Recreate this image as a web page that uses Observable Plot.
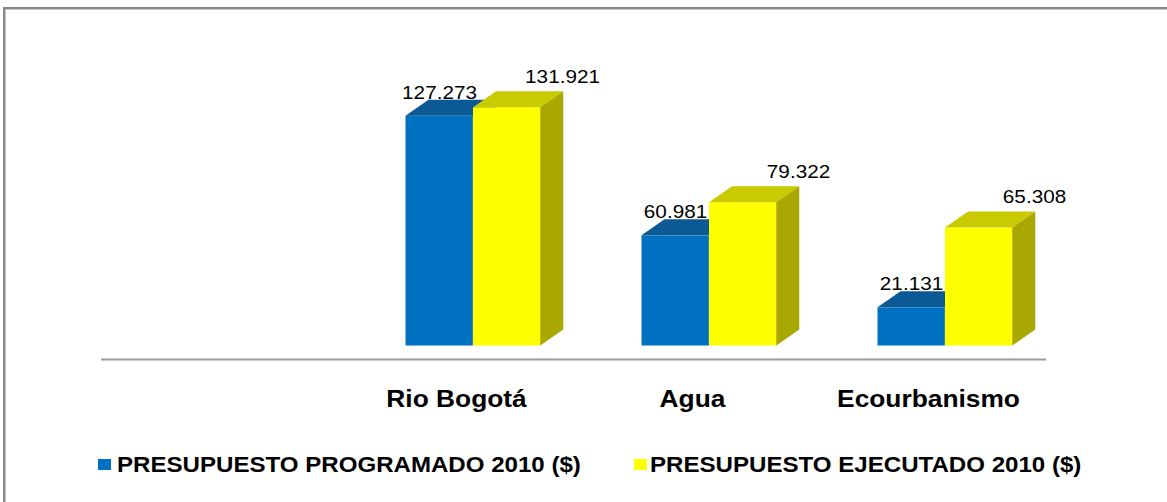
<!DOCTYPE html>
<html><head><meta charset="utf-8">
<script src="https://cdn.jsdelivr.net/npm/d3@7"></script>
<script src="https://cdn.jsdelivr.net/npm/@observablehq/plot@0.6"></script>
<style>
html,body{margin:0;padding:0;background:#fff;width:1167px;height:502px;overflow:hidden;font-family:"Liberation Sans",Arial,sans-serif}
#frame{position:absolute;left:3px;top:7px;width:1300px;height:600px;border-top:2px solid #878787;border-left:2px solid #878787;box-shadow:inset 1px 1px 0 #c4c4c4}
#chart{position:absolute;left:0;top:0}
.leg{position:absolute;top:454.8px;font-weight:bold;font-size:21.5px;line-height:21.5px;color:#000;white-space:nowrap;transform-origin:0 0;transform:scaleX(1.12)}
.sw{position:absolute;width:13px;height:11px}
</style></head><body>
<div id="frame"></div>
<div id="chart"></div>
<div id="legend"></div>
<script>
// ---- data ----
const categories = ["Rio Bogotá", "Agua", "Ecourbanismo"];
const series = ["PRESUPUESTO PROGRAMADO 2010 ($)", "PRESUPUESTO EJECUTADO 2010 ($)"];
const programado = [127273, 60981, 21131];
const ejecutado = [131921, 79322, 65308];

// ---- styles ----
const frontColors = ["#0070C0", "#FFFF00"];
const topColors = ["#0B5A96", "#CACA00"];
const sideColors = ["#00508C", "#A8A800"];

const table = categories.flatMap((c, i) => [
  {cat: c, series: series[0], value: programado[i]},
  {cat: c, series: series[1], value: ejecutado[i]}
]);
const prog = table.filter(d => d.series === series[0]);
const ejec = table.filter(d => d.series === series[1]);
const fmt = d3.formatLocale({decimal: ",", thousands: ".", grouping: [3], currency: ["$", ""]}).format(",d");

const chart = Plot.plot({
  width: 1167, height: 430,
  marginLeft: 101, marginRight: 121, marginTop: 92.66, marginBottom: 84.5,
  x: {domain: ["", ...categories], range: [101, 1046], padding: 0, axis: null},
  y: {domain: [0, 140000], range: [345.5, 92.66], axis: null},
  style: {background: "transparent", overflow: "visible", fontFamily: "Liberation Sans, Arial, sans-serif"},
  marks: [
    Plot.ruleY([0], {dy: 13.5, stroke: "#9c9c9c", strokeWidth: 2}),
    Plot.barY(prog, {x: "cat", y: "value", fill: frontColors[0], insetLeft: 67.5, insetRight: 101.25}),
    Plot.barY(ejec, {x: "cat", y: "value", fill: frontColors[1], insetLeft: 135, insetRight: 33.75}),
    Plot.text(prog, {x: "cat", y: "value", text: d => fmt(d.value), dx: -17, dy: -17.5, lineAnchor: "bottom", fontSize: 17.7, fill: "#000"}),
    Plot.text(ejec, {x: "cat", y: "value", text: d => fmt(d.value), dx: 106, dy: -25, lineAnchor: "bottom", fontSize: 17.7, fill: "#000"}),
    Plot.text(categories, {x: d => d, frameAnchor: "bottom", dy: 60.5, lineAnchor: "bottom", fontSize: 23.3, fontWeight: "bold", fill: "#000"})
  ]
});
document.getElementById("chart").appendChild(chart);

// 3D faces derived from the bars Plot drew
const DX = 23, DY = -16;
chart.querySelectorAll('g[aria-label="bar"]').forEach((g, gi) => {
  const rects = Array.from(g.querySelectorAll("rect"));
  rects.forEach(r => {
    const x = +r.getAttribute("x"), y = +r.getAttribute("y");
    const w = +r.getAttribute("width"), h = +r.getAttribute("height");
    const top = document.createElementNS("http://www.w3.org/2000/svg", "polygon");
    top.setAttribute("points", `${x},${y} ${x+w},${y} ${x+w+DX},${y+DY} ${x+DX},${y+DY}`);
    top.setAttribute("fill", topColors[gi]);
    const side = document.createElementNS("http://www.w3.org/2000/svg", "polygon");
    side.setAttribute("points", `${x+w},${y} ${x+w+DX},${y+DY} ${x+w+DX},${y+h+DY} ${x+w},${y+h}`);
    side.setAttribute("fill", sideColors[gi]);
    g.appendChild(top);
    g.appendChild(side);
  });
});

// horizontal stretch of texts to match the reference
const stretch = [1.17, 1.17, 1.13];
chart.querySelectorAll('g[aria-label="text"]').forEach((g, gi) => {
  g.querySelectorAll("text").forEach(t => {
    const len = t.getComputedTextLength();
    t.setAttribute("textLength", len * stretch[gi]);
    t.setAttribute("lengthAdjust", "spacingAndGlyphs");
  });
});

// legend
const legendPos = [{sw: 98, tx: 117}, {sw: 634, tx: 650}];
const legend = document.getElementById("legend");
series.forEach((s, i) => {
  const sw = document.createElement("div");
  sw.className = "sw";
  sw.style.left = legendPos[i].sw + "px";
  sw.style.top = "459px";
  sw.style.background = frontColors[i];
  legend.appendChild(sw);
  const tx = document.createElement("div");
  tx.className = "leg";
  tx.style.left = legendPos[i].tx + "px";
  tx.textContent = s;
  legend.appendChild(tx);
});
</script>
</body></html>
